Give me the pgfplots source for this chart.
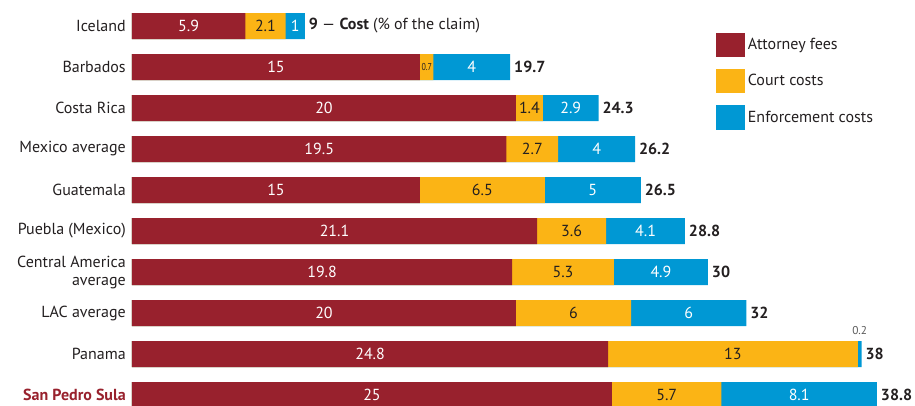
\documentclass[border=0pt]{standalone}
\usepackage{fontspec}
\setmainfont{PT Sans}
\usepackage{pgfplots}
\usepackage{pgfplotstable}
\pgfplotsset{compat=1.18}
\definecolor{att}{HTML}{98212D}
\definecolor{court}{HTML}{FBB415}
\definecolor{enf}{HTML}{0098D4}
\definecolor{txt}{HTML}{231F20}
\pgfplotstableread{
idx att court enf total
0 5.9 2.1 1 9
1 15 0.7 4 19.7
2 20 1.4 2.9 24.3
3 19.5 2.7 4 26.2
4 15 6.5 5 26.5
5 21.1 3.6 4.1 28.8
6 19.8 5.3 4.9 30
7 20 6 6 32
8 24.8 13 0.2 38
9 25 5.7 8.1 38.8
}\costs
\begin{document}
\begin{tikzpicture}
\begin{axis}[
  scale only axis, width=576pt, height=307.5pt,
  xmin=0, xmax=40, ymin=-0.5, ymax=9.5, y dir=reverse,
  enlargelimits=false, clip=false,
  axis lines=left, axis line style={draw=none},
  major tick length=0pt, xtick=\empty,
  ytick={0,...,9},
  yticklabels={Iceland, Barbados, Costa Rica, Mexico average, Guatemala, Puebla (Mexico), {Central America\\average}, LAC average, Panama, {\color{att}\bfseries San Pedro Sula}},
  yticklabel style={align=right, inner sep=0pt, xshift=-4.5pt, text=txt, font=\fontsize{12}{13.5}\selectfont},
  legend style={draw=none, fill=none, at={(0.7604,0.9346)}, anchor=north west, inner sep=0pt, row sep=9pt, font=\fontsize{12}{13.5}\selectfont, text=txt},
  legend cell align=left,
  legend image code/.code={\fill[#1] (0pt,-9.15pt) rectangle (21.75pt,9.15pt);},
]
\addlegendimage{fill=att, draw=none}
\addlegendimage{fill=court, draw=none}
\addlegendimage{fill=enf, draw=none}
\legend{Attorney fees, Court costs, Enforcement costs}
\coordinate (tl) at (axis cs:0,-0.5);
% bars (overlaid cumulative)
\addplot[xbar, bar width=19.5pt, bar shift=0pt, fill=enf, draw=none, forget plot]
  table[x expr=\thisrow{att}+\thisrow{court}+\thisrow{enf}, y=idx]{\costs};
\addplot[xbar, bar width=19.5pt, bar shift=0pt, fill=court, draw=none, forget plot]
  table[x expr=\thisrow{att}+\thisrow{court}, y=idx]{\costs};
\addplot[xbar, bar width=19.5pt, bar shift=0pt, fill=att, draw=none, forget plot]
  table[x=att, y=idx]{\costs};
% segment labels
\addplot[draw=none, no marks, forget plot, nodes near coords, point meta=explicit symbolic,
  nodes near coords style={anchor=center, inner sep=0pt, text=white, font=\fontsize{12}{13.5}\selectfont}]
  table[x expr=\thisrow{att}/2, y=idx, meta=att]{\costs};
\addplot[draw=none, no marks, forget plot, nodes near coords, point meta=explicit symbolic,
  skip coords between index={1}{2},
  nodes near coords style={anchor=center, inner sep=0pt, text=txt, font=\fontsize{12}{13.5}\selectfont}]
  table[x expr=\thisrow{att}+\thisrow{court}/2, y=idx, meta=court]{\costs};
\addplot[draw=none, no marks, forget plot, nodes near coords, point meta=explicit symbolic,
  skip coords between index={8}{9},
  nodes near coords style={anchor=center, inner sep=0pt, text=white, font=\fontsize{12}{13.5}\selectfont}]
  table[x expr=\thisrow{att}+\thisrow{court}+\thisrow{enf}/2, y=idx, meta=enf]{\costs};
% special small labels
\addplot[draw=none, no marks, forget plot, nodes near coords={0.7},
  nodes near coords style={anchor=center, inner sep=0pt, text=txt, xscale=0.8, font=\fontsize{7.5}{8}\selectfont}]
  coordinates {(15.35,1)};
\addplot[draw=none, no marks, forget plot, nodes near coords={0.2},
  nodes near coords style={anchor=center, inner sep=0pt, text=black!65, font=\fontsize{8.5}{9}\selectfont}]
  coordinates {(37.9,7.42)};
% totals
\addplot[draw=none, no marks, forget plot, nodes near coords, point meta=explicit symbolic,
  skip coords between index={0}{1},
  nodes near coords style={anchor=west, inner sep=0pt, xshift=2.8pt, text=txt, font=\fontsize{12}{13.5}\selectfont\bfseries}]
  table[x=total, y=idx, meta=total]{\costs};
\addplot[draw=none, no marks, forget plot, nodes near coords={\textbf{9} — \textbf{Cost} (\% of the claim)},
  nodes near coords style={anchor=west, inner sep=0pt, xshift=2.8pt, text=txt, font=\fontsize{12}{13.5}\selectfont}]
  coordinates {(9,0)};
\end{axis}
\pgfresetboundingbox
\path ([shift={(-99pt,4.125pt)}]tl) rectangle ([shift={(587.25pt,-299.625pt)}]tl);
\end{tikzpicture}
\end{document}
